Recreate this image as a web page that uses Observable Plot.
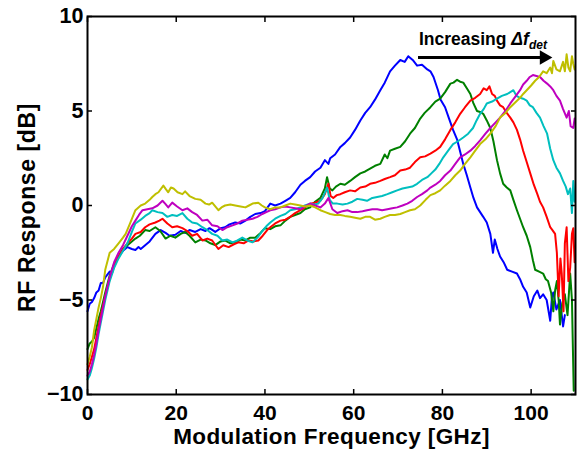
<!DOCTYPE html>
<html><head><meta charset="utf-8">
<script src="https://cdn.jsdelivr.net/npm/d3@7"></script>
<script src="https://cdn.jsdelivr.net/npm/@observablehq/plot@0.6"></script>
<style>body{margin:0;background:#fff} svg{display:block}</style>
</head><body><div id="chart"></div>
<script>
const seriesNames = ["s1","s2","s3","s4","s5","s6"];
const seriesColors = ["#0000ff","#008000","#ff0000","#00bfbf","#bf00bf","#bfbf00"];
const xTicks = [0,20,40,60,80,100];
const yTicks = [-10,-5,0,5,10];
const xTitle = "Modulation Frequency [GHz]";
const yTitle = "RF Response [dB]";
const annoText = "Increasing ";
const annoItalic = "\u0394f";
const annoSub = "det";
const arrowX = [74.5, 102.2];
const arrowY = 7.83;

const blue = [[0,-5.6],[0.5,-5.2],[1,-5.1],[1.5,-4.9],[2,-4.6],[2.5,-4.5],[3,-4.1],[3.5,-4.1],[4,-3.8],[5,-3.5],[5.5,-3.6],[6,-3.2],[7,-2.7],[8,-2.4],[9,-2.2],[10,-2.3],[10.8,-2.35],[11.5,-2.2],[12,-2.3],[13,-2.1],[14,-1.9],[15.3,-1.5],[16.5,-1.3],[17.6,-1.45],[18.5,-1.6],[19.8,-1.55],[21,-1.35],[22,-1.45],[23,-1.3],[24.3,-1.4],[25.5,-1.25],[26.6,-1.35],[27.5,-1.2],[28.8,-1.4],[30,-1.2],[31,-1.15],[32,-1.0],[33.3,-0.9],[34.5,-0.95],[35.6,-0.8],[36.7,-0.6],[37.8,-0.45],[39,-0.4],[40,-0.3],[41.2,0.1],[42.3,0.0],[43.5,0.1],[44.6,0.25],[45.7,0.4],[46.8,0.7],[48,1.1],[49,1.3],[50.2,1.5],[51.3,1.8],[52.5,2.0],[53.5,2.4],[54.3,2.2],[54.7,2.5],[55.8,2.7],[57,3.1],[58,3.3],[59.2,3.6],[60.3,4.0],[61.5,4.5],[62.6,4.9],[63.7,5.2],[64.8,5.6],[66,6.1],[67,6.5],[68.2,7.1],[69.3,7.4],[70.5,7.7],[71.5,7.6],[72.3,7.9],[73.3,7.7],[74.3,7.4],[75.4,7.45],[76.6,7.2],[77.3,7.1],[78,6.8],[79,6.1],[79.6,5.6],[80.6,5.2],[81.5,4.6],[82.4,4.0],[83.3,3.5],[84.7,2.2],[85.5,1.6],[86.3,0.95],[87,0.4],[87.8,-0.1],[89.2,-0.6],[90,-0.9],[90.8,-1.5],[91.4,-2.5],[91.8,-1.8],[92.4,-2.3],[93,-2.7],[93.8,-3.0],[94.6,-3.4],[95.7,-3.5],[96.8,-3.6],[97.5,-3.9],[98.2,-4.3],[99,-4.6],[99.8,-5.4],[100.6,-4.8],[101.4,-4.5],[102,-4.9],[102.7,-4.7],[103.5,-5.0],[104.3,-6.1],[104.7,-4.8],[105,-4.6],[105.7,-5.5],[106.5,-5.0],[107.2,-6.4],[107.6,-5.8]];

const green = [[0,-7.6],[0.5,-7.3],[1,-7.2],[1.5,-7.0],[2,-6.5],[2.5,-6.0],[3,-5.6],[3.5,-5.1],[4,-4.6],[5,-3.7],[6,-3.1],[7,-2.7],[8,-2.3],[9,-2.1],[10,-1.9],[10.8,-1.75],[11.8,-1.6],[13,-1.3],[14,-1.35],[15.3,-1.15],[16.4,-1.35],[17.6,-1.75],[18.7,-1.6],[19.8,-1.7],[21,-1.5],[22,-1.4],[23,-1.6],[24.3,-1.95],[25.5,-1.8],[26.6,-1.85],[27.7,-2.0],[28.8,-2.1],[30,-1.9],[31,-1.85],[32.2,-2.0],[33.3,-1.95],[34.5,-1.8],[35.6,-1.85],[36.7,-1.7],[37.8,-1.7],[39,-1.45],[40,-1.2],[41.2,-1.25],[42.3,-1.1],[43.5,-1.05],[44.6,-0.8],[45.7,-0.6],[46.8,-0.5],[48,-0.4],[49,-0.2],[50.2,-0.1],[51.3,0.2],[52.5,0.4],[53.5,0.9],[54,1.5],[54.6,0.9],[55.2,0.8],[56,1.0],[57,1.15],[58,1.1],[59.2,1.3],[60.3,1.5],[61.5,1.7],[62.6,1.8],[63.7,1.95],[64.8,2.1],[66,2.2],[67,2.7],[67.6,2.5],[68.2,2.9],[69.3,3.0],[70.5,3.1],[71.6,3.4],[72.7,3.8],[73.8,4.1],[75,4.6],[76,4.9],[77.3,5.2],[78.4,5.5],[79.5,5.65],[80.6,6.0],[81.8,6.45],[82.5,6.5],[83.3,6.65],[84,6.55],[84.7,6.5],[85.5,6.2],[86.3,5.9],[87,5.4],[87.8,5.0],[88.5,4.95],[89.2,4.85],[90,4.5],[90.8,4.1],[91.5,3.4],[92.3,2.4],[93,1.7],[93.7,1.15],[94.5,0.95],[95.3,0.8],[96,0.3],[96.8,-0.25],[97.5,-0.7],[98.2,-1.15],[99,-1.6],[99.8,-2.2],[100.4,-2.9],[100.9,-3.4],[101.8,-3.5],[102.7,-3.6],[103.3,-3.9],[103.8,-4.0],[104.5,-4.6],[105,-5.6],[105.4,-4.5],[105.8,-4.0],[106.2,-5.0],[106.5,-6.3],[107,-5.2],[107.6,-4.7],[108.2,-5.8],[108.8,-3.6],[109.2,-5.0],[109.6,-9.8]];

const red = [[0,-8.7],[0.5,-8.4],[1,-8.0],[1.5,-7.6],[2,-7.0],[2.5,-6.4],[3,-5.8],[3.5,-5.3],[4,-4.8],[5,-3.9],[6,-3.2],[7,-2.7],[8,-2.3],[9,-2.0],[10,-1.75],[10.8,-1.5],[12,-1.4],[13,-1.15],[14,-1.0],[15.3,-0.9],[16.2,-0.8],[16.9,-0.7],[18,-0.95],[19.1,-1.15],[20.2,-1.1],[21.4,-1.2],[22.5,-1.35],[23.6,-1.6],[24.7,-1.5],[25.9,-1.85],[27,-1.75],[28.1,-1.85],[29.5,-2.3],[30.6,-2.1],[31.8,-2.2],[33,-2.05],[34,-1.95],[35.2,-2.0],[36.3,-1.85],[37.4,-1.9],[38.5,-1.85],[39.5,-1.6],[40.5,-1.3],[41.2,-1.15],[42.3,-0.95],[43.5,-0.8],[44.6,-0.75],[45.7,-0.6],[46.8,-0.4],[48,-0.25],[49,-0.1],[50.2,0.1],[51.3,0.15],[52.5,0.25],[53.5,0.6],[54.3,1.15],[54.8,0.5],[55.4,0.4],[56.2,0.55],[57,0.6],[58,0.7],[59.2,0.8],[60.3,0.75],[61.5,0.95],[62.6,1.0],[63.7,1.15],[64.8,1.2],[66,1.3],[67,1.4],[68.2,1.5],[69.3,1.6],[70.5,1.85],[71.6,1.9],[72.7,2.0],[73.8,2.3],[75,2.55],[76.1,2.6],[77.3,2.75],[78.4,2.9],[79.5,3.1],[80.6,3.5],[81.8,4.0],[82.9,4.4],[84,4.85],[85.1,5.2],[86.3,5.55],[87.4,5.7],[88.5,5.9],[89.3,6.2],[90,6.1],[90.6,6.3],[91.2,5.9],[91.8,5.8],[92.3,5.55],[93,5.3],[93.7,5.2],[94.5,4.9],[95.3,4.65],[96,4.4],[96.8,4.0],[97.5,3.5],[98.2,2.9],[99,2.3],[99.8,1.7],[100.6,1.1],[101.4,0.6],[102,0.2],[102.7,-0.1],[103.5,-0.6],[104.3,-1.15],[104.8,-1.3],[105.4,-1.5],[105.8,-2.5],[106.2,-4.8],[106.6,-2.8],[106.9,-3.6],[107.3,-5.6],[107.6,-2.0],[108,-1.15],[108.4,-4.0],[108.8,-3.3],[109.2,-1.5],[109.5,-1.2],[109.8,-3.0]];

const cyan = [[0,-9.2],[0.5,-9.0],[1,-8.6],[1.5,-8.1],[2,-7.5],[2.5,-6.8],[3,-6.2],[3.5,-5.6],[4,-5.0],[5,-4.0],[6,-3.3],[7,-2.8],[8,-2.4],[9,-2.0],[10,-1.4],[10.8,-0.95],[12,-0.75],[13,-0.55],[14,-0.4],[14.6,-0.25],[15.8,-0.35],[16.9,-0.4],[18,-0.6],[19.1,-0.5],[20.2,-0.55],[21.4,-0.4],[22.5,-0.7],[23.6,-0.9],[24.7,-0.95],[25.9,-1.15],[27,-1.3],[28.1,-1.5],[29.3,-1.6],[30.4,-1.85],[31.5,-1.8],[32.7,-1.95],[33.8,-1.85],[34.9,-1.7],[36,-1.85],[37.2,-1.95],[38.3,-1.7],[39.4,-1.35],[40.3,-1.1],[41.2,-0.9],[42.3,-0.7],[43.5,-0.55],[44.6,-0.45],[45.7,-0.25],[46.8,-0.2],[48,-0.1],[49,0.0],[50.2,0.1],[51.1,0.05],[52,0.1],[53,0.4],[54,0.95],[54.6,0.3],[55.3,0.1],[56.3,0.1],[57.5,0.05],[58.6,0.1],[59.7,0.2],[60.8,0.35],[62,0.3],[63,0.25],[64.2,0.4],[65.3,0.45],[66.4,0.5],[67.6,0.6],[68.7,0.7],[69.8,0.8],[71,0.9],[72.1,0.95],[73.2,1.0],[74.3,1.15],[75.4,1.35],[76.6,1.5],[77.5,1.7],[78.4,1.9],[79.3,2.2],[80.2,2.55],[81.3,2.9],[82.4,3.25],[83.5,3.4],[84.7,3.6],[85.8,3.8],[86.9,4.1],[87.7,4.5],[88.5,4.85],[89.3,5.1],[90,5.4],[91.2,5.5],[92.3,5.65],[93.4,5.8],[94.6,5.9],[95.3,6.0],[96,6.1],[96.7,5.8],[97.5,5.7],[98.2,5.65],[99,5.55],[99.7,5.3],[100.4,5.2],[101.2,4.9],[102,4.65],[102.8,4.2],[103.6,3.8],[104.3,3.0],[105,2.4],[105.7,2.0],[106.5,1.7],[107.2,1.3],[107.8,1.0],[108.3,0.6],[108.8,0.9],[109.2,-0.4],[109.5,1.3],[109.8,0.2]];

const magenta = [[0,-9.0],[0.5,-8.8],[1,-8.4],[1.5,-7.9],[2,-7.3],[2.5,-6.6],[3,-6.0],[3.5,-5.4],[4,-4.8],[5,-3.8],[6,-3.0],[7,-2.5],[8,-2.1],[9,-1.6],[10,-1.1],[10.8,-0.8],[11.6,-0.5],[12.4,-0.25],[13.5,-0.2],[14.6,-0.15],[15.8,0.0],[16.9,0.25],[17.5,0.1],[18.2,-0.1],[19.1,0.15],[20.2,-0.05],[21.4,-0.25],[22.5,-0.15],[23.6,-0.35],[24.7,-0.5],[25.9,-0.8],[27,-0.75],[28.1,-1.05],[29.3,-1.1],[30.4,-1.3],[31.5,-1.15],[32.7,-1.05],[33.8,-0.95],[34.9,-0.8],[36,-0.75],[37.2,-0.7],[38.3,-0.6],[39.4,-0.45],[40.3,-0.35],[41.2,-0.25],[42.3,-0.2],[43.5,-0.1],[44.6,-0.05],[45.7,-0.1],[46.8,-0.15],[48,-0.2],[49,-0.05],[50.2,0.1],[51.3,0.0],[52.5,-0.1],[53.5,0.1],[54.3,0.4],[55.2,-0.2],[56.3,-0.4],[57.5,-0.3],[58.6,-0.25],[59.7,-0.35],[60.8,-0.35],[62,-0.3],[63,-0.25],[64.2,-0.2],[65.3,-0.2],[66.4,-0.25],[67.6,-0.2],[68.7,-0.15],[69.8,-0.1],[71,0.0],[72.1,0.1],[73.2,0.25],[74.3,0.45],[75.4,0.6],[76.6,0.8],[77.3,0.95],[78.4,1.1],[79.5,1.3],[80.6,1.6],[81.8,1.85],[82.9,2.2],[84,2.55],[85.1,2.7],[86.3,2.9],[87.4,3.15],[88.5,3.45],[89.7,3.8],[90.8,4.1],[92,4.4],[93,4.65],[94.2,5.0],[95.3,5.4],[96.4,5.75],[97.5,6.1],[98.2,6.4],[99,6.6],[99.7,6.8],[100.4,6.9],[101.2,6.85],[102,6.8],[102.8,6.6],[103.6,6.45],[104.3,6.3],[105,6.1],[105.7,5.8],[106.5,5.55],[107.2,5.1],[108,4.65],[108.5,5.0],[108.9,4.2],[109.5,4.1],[109.8,4.6]];

const yellow = [[0,-8.4],[0.5,-8.0],[1,-7.5],[1.5,-6.6],[2,-6.0],[2.5,-5.4],[3,-4.9],[3.5,-4.3],[4,-3.4],[5,-2.5],[6,-2.3],[7,-2.0],[8,-1.7],[8.6,-1.5],[9.5,-1.0],[10.8,-0.25],[12,0.0],[13,0.1],[14,0.3],[14.6,0.45],[15.3,0.6],[16,0.7],[17.1,1.05],[17.7,0.85],[18.2,0.7],[18.8,0.95],[19.4,0.9],[20.3,0.7],[21.4,0.6],[22,0.75],[23,0.5],[24.3,0.35],[25.5,0.3],[26.6,0.1],[27.4,0.05],[28.1,0.15],[29.5,-0.25],[30.2,-0.1],[31,0.0],[32.2,0.05],[33.3,0.0],[34.5,-0.05],[35.6,-0.1],[36.4,0.0],[37.2,0.1],[38.5,0.15],[39.3,0.0],[40,-0.1],[41.2,-0.2],[42.3,-0.1],[43.5,-0.1],[44.6,0.0],[45.7,0.1],[46.8,0.05],[48,0.0],[49,-0.05],[50.2,0.0],[51.3,-0.1],[52.5,-0.25],[53.6,-0.35],[54.7,-0.45],[55.8,-0.5],[57,-0.5],[58,-0.55],[59.2,-0.6],[60.3,-0.65],[61.5,-0.7],[62.6,-0.6],[63.7,-0.6],[64.8,-0.75],[66,-0.7],[67,-0.6],[68.2,-0.5],[69.3,-0.5],[70.5,-0.45],[71.6,-0.35],[72.7,-0.25],[73.8,-0.2],[75,0.0],[76.2,0.3],[77.3,0.55],[78.4,0.65],[79.5,0.8],[80.6,1.05],[81.8,1.3],[82.9,1.6],[84,1.85],[85.1,2.2],[86.3,2.55],[87.4,2.9],[88.5,3.25],[89.7,3.5],[90.8,3.8],[92,4.2],[93,4.65],[94.2,4.9],[95.3,5.2],[96.4,5.45],[97.5,5.7],[98.2,5.9],[99,6.1],[100,6.35],[100.9,6.6],[101.8,6.8],[102.7,7.1],[103.5,7.0],[104.3,7.3],[104.7,7.0],[105,7.65],[105.7,7.2],[106.5,7.1],[107.2,7.6],[107.6,7.1],[108,8.0],[108.4,7.3],[108.8,7.1],[109.2,7.9],[109.5,7.5],[109.8,7.2]];

const allSeries = [blue, green, red, cyan, magenta, yellow];
const rows = allSeries.flatMap((pts, i) => pts.map(([f, v]) => ({f, v, s: seriesNames[i]})));

const font = "'Liberation Sans', Arial, Helvetica, sans-serif";
const chart = Plot.plot({
  width: 581, height: 455,
  marginLeft: 87, marginRight: 6, marginTop: 16, marginBottom: 61,
  x: {domain: [0, 110]},
  y: {domain: [-10, 10]},
  color: {domain: seriesNames, range: seriesColors},
  style: {fontFamily: font, fontWeight: "bold", background: "#fff", color: "#000"},
  marks: [
    Plot.line(rows, {x: "f", y: "v", z: "s", stroke: "s", strokeWidth: 2}),
    Plot.frame({stroke: "#000", strokeWidth: 2}),
    Plot.axisX({ticks: xTicks, anchor: "bottom", tickSize: -5, tickPadding: 16, fontSize: 21, label: null, strokeWidth: 1.5}),
    Plot.axisX({ticks: xTicks, anchor: "top", tickSize: -5, tickFormat: () => "", label: null, strokeWidth: 1.5}),
    Plot.axisY({ticks: yTicks, anchor: "left", tickSize: -5, tickPadding: 9, fontSize: 21.5, label: null, strokeWidth: 1.5}),
    Plot.axisY({ticks: yTicks, anchor: "right", tickSize: -5, tickFormat: () => "", label: null, strokeWidth: 1.5}),
    Plot.text([xTitle], {text: d => d, frameAnchor: "bottom", textAnchor: "middle", dy: 49, lineAnchor: "bottom", fontSize: 22.5, fontWeight: "bold"}),
    Plot.text([yTitle], {text: d => d, frameAnchor: "left", textAnchor: "middle", dx: -53, dy: 2, rotate: -90, lineAnchor: "bottom", fontSize: 23, fontWeight: "bold"}),
    Plot.link([0], {x1: arrowX[0], x2: arrowX[1], y1: arrowY, y2: arrowY, stroke: "#000", strokeWidth: 3}),
    Plot.dot([0], {x: arrowX[1] + 0.7, y: arrowY, symbol: "triangle", r: 5.4, rotate: 90, fill: "#000", stroke: "none"}),
    Plot.text([annoText + annoItalic + annoSub], {text: d => d, x: arrowX[0] + 0.2, y: 8.47, textAnchor: "start", lineAnchor: "bottom", fontSize: 17.5, fontWeight: "bold"})
  ]
});
document.getElementById("chart").appendChild(chart);

// letter spacing on titles to match the reference's wider face
d3.select(chart).selectAll("text").filter(function() { return this.textContent === xTitle; }).attr("letter-spacing", "0.4px");
d3.select(chart).selectAll("text").filter(function() { return this.textContent === yTitle; }).attr("letter-spacing", "0.6px");

// rich text for the annotation (italic Δf with subscript "det")
d3.select(chart).selectAll("text").filter(function() { return this.textContent === annoText + annoItalic + annoSub; })
  .each(function() {
    const t = d3.select(this);
    t.text(null);
    t.append("tspan").text(annoText);
    t.append("tspan").attr("font-style", "italic").text(annoItalic);
    t.append("tspan").attr("font-style", "italic").attr("font-size", "12px").attr("dy", "4").text(annoSub);
  });
</script>
</body></html>
